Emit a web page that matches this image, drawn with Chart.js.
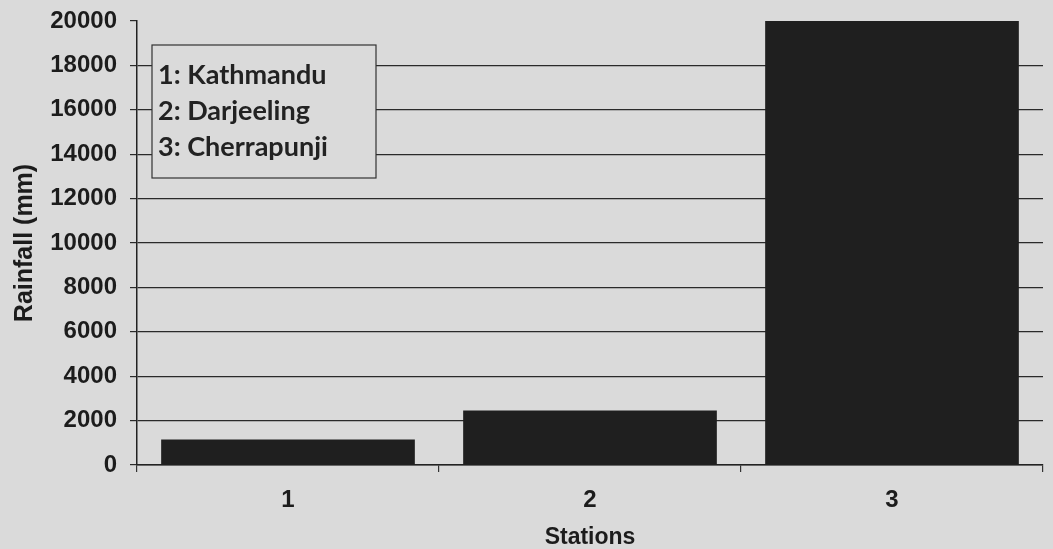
<!DOCTYPE html>
<html>
<head>
<meta charset="utf-8">
<script src="https://cdn.jsdelivr.net/npm/chart.js@4"></script>
<style>
  html, body { margin: 0; padding: 0; background: #dadada; }
  #wrap { width: 1053px; height: 549px; }
</style>
</head>
<body>
<div id="wrap"><canvas id="c"></canvas></div>
<script>
const stations = ['1', '2', '3'];
const stationNames = ['1: Kathmandu', '2: Darjeeling', '3: Cherrapunji'];
const rainfall = [1150, 2450, 20000];
const yTicks = [0, 2000, 4000, 6000, 8000, 10000, 12000, 14000, 16000, 18000, 20000];

const ink = '#1c1c1c';
const paper = '#dadada';

// paper background
const paperBg = {
    id: 'paperBg',
    beforeDraw(chart) {
        const ctx = chart.ctx;
        ctx.save();
        ctx.fillStyle = paper;
        ctx.fillRect(0, 0, chart.width, chart.height);
        ctx.restore();
    }
};

// boxed key in the upper left of the plot
const keyBox = {
    id: 'keyBox',
    afterDraw(chart) {
        const ctx = chart.ctx;
        const a = chart.chartArea;
        const x = a.left + 15, y = a.top + 24, w = 224, h = 133;
        ctx.save();
        ctx.fillStyle = paper;
        ctx.fillRect(x, y, w, h);
        ctx.strokeStyle = '#333';
        ctx.lineWidth = 1.2;
        ctx.strokeRect(x, y, w, h);
        ctx.fillStyle = '#222';
        ctx.font = 'bold 27px Lato';
        ctx.textBaseline = 'middle';
        stationNames.forEach((s, i) => {
            ctx.fillText(s, x + 6, y + 30 + i * 36);
        });
        ctx.restore();
    }
};

new Chart(document.getElementById('c'), {
    type: 'bar',
    data: {
        labels: stations,
        datasets: [{
            label: 'Rainfall',
            data: rainfall,
            backgroundColor: '#1f1f1f',
            borderWidth: 0,
            barPercentage: 0.84,
            categoryPercentage: 1
        }]
    },
    options: {
        responsive: true,
        maintainAspectRatio: false,
        animation: false,
        layout: { padding: { top: 21, right: 10, left: 0, bottom: 0 } },
        plugins: {
            legend: { display: false },
            tooltip: { enabled: false }
        },
        scales: {
            x: {
                grid: {
                    drawOnChartArea: false,
                    offset: true,
                    tickLength: 7,
                    color: '#333',
                    lineWidth: 1.2
                },
                border: { display: true, color: '#222', width: 1.5 },
                ticks: {
                    color: ink,
                    padding: 14,
                    font: { family: 'Liberation Sans, Arial', weight: 'bold', size: 24 }
                },
                title: {
                    display: true,
                    text: 'Stations',
                    color: ink,
                    padding: { top: 0, bottom: 0 },
                    font: { family: 'Liberation Sans, Arial', weight: 'bold', size: 23, lineHeight: 1 }
                },
                afterFit(scale) { scale.height = 84; }
            },
            y: {
                min: 0,
                max: 20000,
                afterBuildTicks(scale) {
                    scale.ticks = yTicks.map(v => ({ value: v }));
                },
                grid: {
                    color: ctx => ctx.tick && ctx.tick.value === 20000 ? 'rgba(0,0,0,0)' : '#2a2a2a',
                    tickColor: '#2a2a2a',
                    lineWidth: 1.2,
                    tickLength: 7
                },
                border: { display: true, color: '#222', width: 1.5 },
                ticks: {
                    color: ink,
                    padding: 13,
                    callback: v => String(v),
                    font: { family: 'Liberation Sans, Arial', weight: 'bold', size: 24 }
                },
                title: {
                    display: true,
                    text: 'Rainfall (mm)',
                    color: ink,
                    padding: { top: 10, bottom: 0 },
                    font: { family: 'Liberation Sans, Arial', weight: 'bold', size: 25 }
                },
                afterFit(scale) {
                    scale.width = 137;
                    scale.paddingTop = 0;
                    scale.paddingBottom = 0;
                }
            }
        }
    },
    plugins: [paperBg, keyBox]
});
</script>
</body>
</html>
